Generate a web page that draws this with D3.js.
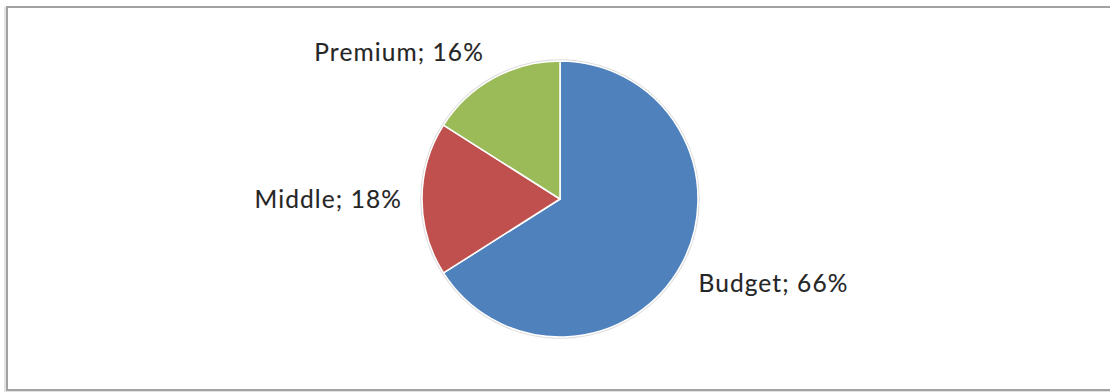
<!DOCTYPE html>
<html>
<head>
<meta charset="utf-8">
<script src="https://cdn.jsdelivr.net/npm/d3@7"></script>
<style>
  html, body { margin: 0; padding: 0; background: #fff; }
  svg { display: block; }
</style>
</head>
<body>
<svg id="chart" width="1110" height="392"></svg>
<script>
// Price segment shares
const segments = ["Budget", "Middle", "Premium"];
const shares = [66, 18, 16];
const segmentColors = ["#4f81bd", "#c0504d", "#9bbb59"];

const width = 1110, height = 392;
const cx = 560, cy = 199, radius = 138;

const svg = d3.select("#chart");

// Chart area frame with a soft shadow on its left side
svg.append("rect")
  .attr("x", 5).attr("y", 8).attr("width", 1120).attr("height", 383)
  .attr("fill", "none").attr("stroke", "#e2e2e2").attr("stroke-width", 2);
svg.append("rect")
  .attr("x", 7).attr("y", 7).attr("width", 1120).attr("height", 383)
  .attr("fill", "#fff").attr("stroke", "#a2a2a2").attr("stroke-width", 2);

const data = segments.map((name, i) => ({ name, value: shares[i], color: segmentColors[i] }));

const pie = d3.pie().value(d => d.value).sort(null);
const arc = d3.arc().innerRadius(0).outerRadius(radius);

const g = svg.append("g").attr("transform", `translate(${cx},${cy})`);

// faint outline around the disc
g.append("circle").attr("r", radius + 1)
  .attr("fill", "none").attr("stroke", "#dcdcdc").attr("stroke-width", 1.5);

const arcs = pie(data);

g.selectAll("path.slice")
  .data(arcs)
  .join("path")
  .attr("class", "slice")
  .attr("d", arc)
  .attr("fill", d => d.data.color)
  .attr("stroke", "#fff")
  .attr("stroke-width", 1.5)
  .attr("stroke-linejoin", "round");

// Data labels: the label box corner nearest the pie sits on the slice's mid-angle ray
const fontSize = 24.5;
const capHeight = fontSize * 0.7;
const labelRadius = 158;
g.selectAll("text.label")
  .data(arcs)
  .join("text")
  .attr("class", "label")
  .each(function (d) {
    const mid = (d.startAngle + d.endAngle) / 2;
    const ux = Math.sin(mid), uy = -Math.cos(mid);
    const x = labelRadius * ux, y = labelRadius * uy;
    const anchor = ux > 0.1 ? "start" : (ux < -0.1 ? "end" : "middle");
    const baseline = uy > 0.3 ? y + capHeight : (uy < -0.3 ? y : y + capHeight / 2);
    d3.select(this)
      .attr("x", x)
      .attr("y", baseline)
      .attr("text-anchor", anchor);
  })
  .attr("font-family", "Lato, 'Open Sans', sans-serif")
  .attr("font-size", fontSize)
  .attr("letter-spacing", 1.1)
  .attr("fill", "#262626")
  .attr("stroke", "#262626")
  .attr("stroke-width", 0.12)
  .text(d => `${d.data.name}; ${d.data.value}%`);
</script>
</body>
</html>
